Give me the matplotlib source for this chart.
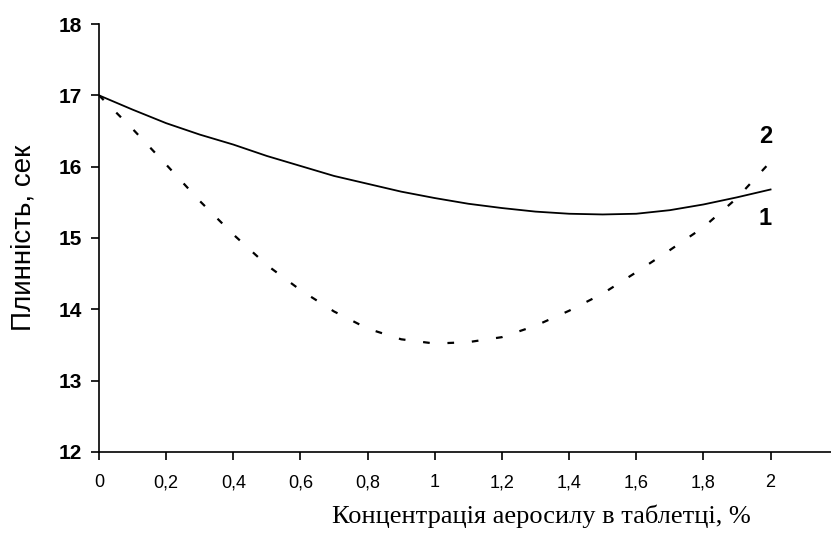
import matplotlib.pyplot as plt

# concentration of aerosil, %
conc = [0.0, 0.1, 0.2, 0.3, 0.4, 0.5, 0.6, 0.7, 0.8, 0.9, 1.0,
        1.1, 1.2, 1.3, 1.4, 1.5, 1.6, 1.7, 1.8, 1.9, 2.0]

# curve 1 (solid)
flow_1 = [17.0, 16.80, 16.61, 16.45, 16.31, 16.15, 16.01, 15.87, 15.76, 15.65, 15.56,
          15.48, 15.42, 15.37, 15.34, 15.33, 15.34, 15.39, 15.47, 15.57, 15.68]

# curve 2 (dashed)
flow_2 = [17.0, 16.53, 16.03, 15.52, 15.05, 14.62, 14.27, 13.97, 13.73, 13.58, 13.52,
          13.54, 13.61, 13.77, 13.98, 14.22, 14.52, 14.83, 15.15, 15.56, 16.07]

x_ticks = [0, 0.2, 0.4, 0.6, 0.8, 1.0, 1.2, 1.4, 1.6, 1.8, 2.0]
x_tick_labels = ["0", "0,2", "0,4", "0,6", "0,8", "1", "1,2", "1,4", "1,6", "1,8", "2"]
y_ticks = [12, 13, 14, 15, 16, 17, 18]

fig = plt.figure(figsize=(8.31, 5.47), dpi=100)
ax = fig.add_axes([0.1191, 0.1737, 0.8809, 0.7824])

ax.plot(conc, flow_1, color="black", linewidth=1.3)
ax.plot(conc, flow_2, color="black", linewidth=1.6, linestyle=(0, (3, 8)))

ax.text(1.985, 16.42, "2", fontsize=17, fontweight="bold", family="Liberation Sans",
        ha="center", va="center")
ax.text(1.985, 15.28, "1", fontsize=17, fontweight="bold", family="Liberation Sans",
        ha="center", va="center")

ax.set_xlim(0, 2.18)
ax.set_ylim(12, 18)
ax.set_xticks(x_ticks)
ax.set_xticklabels(x_tick_labels, family="Liberation Sans", fontsize=13)
ax.set_yticks(y_ticks)
ax.set_yticklabels([str(v) for v in y_ticks], family="Liberation Sans",
                   fontsize=15, fontweight="bold")

for side in ("top", "right"):
    ax.spines[side].set_visible(False)
for side in ("left", "bottom"):
    ax.spines[side].set_linewidth(1.2)
ax.tick_params(axis="both", direction="out", length=6, width=1.2, color="black")
ax.tick_params(axis="x", pad=10)
ax.tick_params(axis="y", pad=6)

ax.set_xlabel("Концентрація аеросилу в таблетці, %", family="Liberation Serif",
              fontsize=19)
ax.xaxis.set_label_coords(0.604, -0.122)
ax.set_ylabel("Плинність, сек", family="Liberation Sans", fontsize=20)
ax.yaxis.set_label_coords(-0.085, 0.5)

fig.savefig("out.png", dpi=100)
